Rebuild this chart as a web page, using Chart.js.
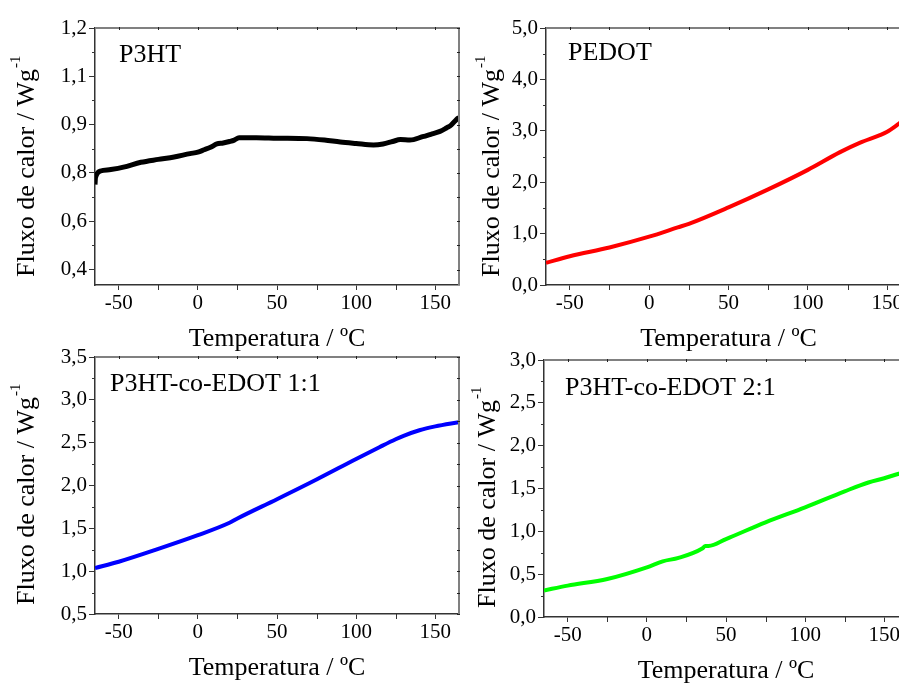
<!DOCTYPE html>
<html lang="pt">
<head>
<meta charset="UTF-8">
<title>Fluxo de calor - DSC</title>
<script src="https://cdn.jsdelivr.net/npm/chart.js"></script>
<style>
    html, body {
        margin: 0;
        padding: 0;
        background: #fff;
        overflow: hidden;
    }
    body {
        width: 899px;
        height: 686px;
        position: relative;
    }
    canvas {
        position: absolute;
    }
</style>
</head>
<body>
<canvas id="c1" width="470" height="355" style="left:0;top:0"></canvas>
<canvas id="c2" width="480" height="355" style="left:450px;top:0"></canvas>
<canvas id="c3" width="470" height="354" style="left:0;top:330px"></canvas>
<canvas id="c4" width="480" height="357" style="left:450px;top:330px"></canvas>
<script>
    // --- data ---
    const xTicks = [-50, 0, 50, 100, 150];
    const xMinor = [-25, 25, 75, 125];
    const xTitle = 'Temperatura / ºC';
    const yTitle = 'Fluxo de calor / Wg';
    const yTitleSup = '-1';

    // P3HT (axis labels are printed as in the original figure)
    const tempP3HT = [-65, -64.7, -61.5, -55, -47, -36, -25, -15, -5, 0, 4, 8, 12, 16, 20, 23, 26, 37, 50, 69,
        80, 90, 100, 111, 117, 123, 128, 134, 142, 148, 153, 157, 160, 163.5, 165];
    const flowP3HT = [0.776, 0.79, 0.804, 0.807, 0.812, 0.822, 0.828, 0.833, 0.840, 0.843, 0.848, 0.853, 0.860, 0.862, 0.865, 0.868, 0.873, 0.873, 0.872, 0.871,
        0.868, 0.864, 0.861, 0.858, 0.860, 0.865, 0.869, 0.868, 0.875, 0.881, 0.886, 0.893, 0.899, 0.911, 0.915];
    const yTicksP3HT = [0.6, 0.7, 0.8, 0.9, 1.0, 1.1];
    const yLabelsP3HT = ['0,4', '0,6', '0,8', '0,9', '1,1', '1,2'];
    const yMinorP3HT = [0.65, 0.75, 0.85, 0.95, 1.05];

    // PEDOT
    const tempPEDOT = [-65, -50, -25, 0, 18, 25, 50, 75, 100, 120, 133, 145, 150, 157, 165];
    const flowPEDOT = [0.43, 0.56, 0.73, 0.94, 1.12, 1.19, 1.51, 1.86, 2.24, 2.58, 2.77, 2.91, 2.98, 3.13, 3.32];
    const yTicksPEDOT = [0, 1, 2, 3, 4, 5];
    const yLabelsPEDOT = ['0,0', '1,0', '2,0', '3,0', '4,0', '5,0'];
    const yMinorPEDOT = [0.5, 1.5, 2.5, 3.5, 4.5];

    // P3HT-co-EDOT 1:1
    const temp11 = [-65, -50, -25, 0, 20, 25, 50, 75, 100, 115, 125, 130, 140, 150, 165];
    const flow11 = [1.036, 1.11, 1.26, 1.42, 1.565, 1.615, 1.84, 2.07, 2.31, 2.45, 2.54, 2.58, 2.645, 2.69, 2.74];
    const yTicks11 = [0.5, 1.0, 1.5, 2.0, 2.5, 3.0, 3.5];
    const yLabels11 = ['0,5', '1,0', '1,5', '2,0', '2,5', '3,0', '3,5'];
    const yMinor11 = [0.75, 1.25, 1.75, 2.25, 2.75, 3.25];

    // P3HT-co-EDOT 2:1
    const temp21 = [-65, -50, -25, 0, 10, 20, 35, 37, 39, 50, 75, 100, 125, 140, 150, 157, 165];
    const flow21 = [0.31, 0.366, 0.444, 0.58, 0.65, 0.69, 0.80, 0.83, 0.83, 0.91, 1.105, 1.28, 1.467, 1.57, 1.62, 1.66, 1.70];
    const yTicks21 = [0, 0.5, 1.0, 1.5, 2.0, 2.5, 3.0];
    const yLabels21 = ['0,0', '0,5', '1,0', '1,5', '2,0', '2,5', '3,0'];
    const yMinor21 = [0.25, 0.75, 1.25, 1.75, 2.25, 2.75];

    const serif = '"Liberation Serif", "Times New Roman", serif';

    // minor ticks, top/right frame, inner label and y title with superscript
    const decorPlugin = {
        id: 'decor',
        afterDraw(chart, args, opts) {
            const ctx = chart.ctx;
            const a = chart.chartArea;
            const xs = chart.scales.x, ys = chart.scales.y;
            ctx.save();

            ctx.strokeStyle = '#333';
            ctx.lineWidth = 1;
            ctx.beginPath();
            opts.xMinor.forEach(v => {
                const px = Math.round(xs.getPixelForValue(v)) + 0.5;
                ctx.moveTo(px, a.bottom);
                ctx.lineTo(px, a.bottom + 5);
            });
            opts.yMinor.forEach(v => {
                const py = Math.round(ys.getPixelForValue(v)) + 0.5;
                ctx.moveTo(a.left, py);
                ctx.lineTo(a.left - 3, py);
            });
            ctx.stroke();

            ctx.strokeStyle = '#808080';
            ctx.lineWidth = 2;
            ctx.beginPath();
            ctx.moveTo(a.left, a.top);
            ctx.lineTo(a.right, a.top);
            ctx.lineTo(a.right, a.bottom);
            ctx.stroke();

            // small marks on top and right borders
            ctx.strokeStyle = '#222';
            ctx.lineWidth = 1;
            ctx.beginPath();
            xTicks.concat(opts.xMinor).forEach(v => {
                const px = Math.round(xs.getPixelForValue(v)) + 0.5;
                ctx.moveTo(px, a.top - 1);
                ctx.lineTo(px, a.top + 2);
            });
            opts.yTicks.concat(opts.yMinor).forEach(v => {
                const py = Math.round(ys.getPixelForValue(v)) + 0.5;
                ctx.moveTo(a.right - 2, py);
                ctx.lineTo(a.right + 1, py);
            });
            ctx.stroke();

            ctx.fillStyle = '#000';
            ctx.textAlign = 'left';
            ctx.textBaseline = 'alphabetic';
            ctx.font = '26px ' + serif;
            ctx.fillText(opts.label, a.left + opts.labelDx, a.top + opts.labelDy);

            ctx.translate(a.left + opts.titleDx, a.bottom + opts.titleDy);
            ctx.rotate(-Math.PI / 2);
            ctx.fillText(yTitle, 0, 0);
            const w = ctx.measureText(yTitle).width;
            ctx.font = '15px ' + serif;
            ctx.fillText(yTitleSup, w + 1, -14);
            ctx.restore();
        }
    };

    function makeChart(id, p) {
        const ctx = document.getElementById(id).getContext('2d');
        return new Chart(ctx, {
            type: 'line',
            data: {
                datasets: [{
                    data: p.temps.map((t, i) => ({ x: t, y: p.values[i] })),
                    borderColor: p.color,
                    borderWidth: p.width,
                    pointRadius: 0,
                    cubicInterpolationMode: 'monotone',
                    fill: false,
                    clip: 0
                }]
            },
            options: {
                responsive: false,
                animation: false,
                events: [],
                layout: { padding: p.padding },
                plugins: {
                    legend: { display: false },
                    tooltip: { enabled: false },
                    decor: {
                        xMinor: xMinor,
                        yMinor: p.yMinor,
                        yTicks: p.yTicks,
                        label: p.label,
                        labelDx: p.labelDx,
                        labelDy: p.labelDy,
                        titleDx: p.titleDx,
                        titleDy: p.titleDy
                    }
                },
                scales: {
                    x: {
                        type: 'linear',
                        min: -65,
                        max: 165,
                        afterBuildTicks: s => { s.ticks = xTicks.map(v => ({ value: v })); },
                        afterFit: s => { s.height = 70; },
                        ticks: {
                            callback: v => String(v),
                            font: { family: serif, size: 21 },
                            color: '#000',
                            padding: 1,
                            maxRotation: 0,
                            autoSkip: false
                        },
                        grid: { drawOnChartArea: false, drawTicks: true, tickLength: 5, color: '#333' },
                        border: { display: true, color: '#333', width: 1.5 },
                        title: {
                            display: true,
                            text: xTitle,
                            font: { family: serif, size: 26 },
                            color: '#000',
                            padding: 0
                        }
                    },
                    y: {
                        type: 'linear',
                        min: p.yMin,
                        max: p.yMax,
                        afterBuildTicks: s => { s.ticks = p.yTicks.map(v => ({ value: v })); },
                        afterFit: s => { s.width = p.yWidth; },
                        ticks: {
                            callback: (v, i) => p.yLabels[i],
                            font: { family: serif, size: 21 },
                            color: '#000',
                            padding: 2,
                            autoSkip: false
                        },
                        grid: { drawOnChartArea: false, drawTicks: true, tickLength: 6, color: '#333' },
                        border: { display: true, color: '#333', width: 1.5 }
                    }
                }
            },
            plugins: [decorPlugin]
        });
    }

    makeChart('c1', {
        temps: tempP3HT, values: flowP3HT, color: '#000000', width: 5,
        yMin: 0.568, yMax: 1.1, yTicks: yTicksP3HT, yLabels: yLabelsP3HT, yMinor: yMinorP3HT,
        yWidth: 95, padding: { top: 28, right: 11, left: 0, bottom: 0 },
        label: 'P3HT', labelDx: 24, labelDy: 34, titleDx: -61, titleDy: -8
    });

    makeChart('c2', {
        temps: tempPEDOT, values: flowPEDOT, color: '#ff0000', width: 4,
        yMin: 0, yMax: 5, yTicks: yTicksPEDOT, yLabels: yLabelsPEDOT, yMinor: yMinorPEDOT,
        yWidth: 96, padding: { top: 28, right: 19, left: 0, bottom: 0 },
        label: 'PEDOT', labelDx: 22, labelDy: 32, titleDx: -47, titleDy: -8
    });

    makeChart('c3', {
        temps: temp11, values: flow11, color: '#0000ff', width: 4,
        yMin: 0.5, yMax: 3.5, yTicks: yTicks11, yLabels: yLabels11, yMinor: yMinor11,
        yWidth: 95, padding: { top: 27, right: 11, left: 0, bottom: 0 },
        label: 'P3HT-co-EDOT 1:1', labelDx: 15, labelDy: 34, titleDx: -61, titleDy: -9
    });

    makeChart('c4', {
        temps: temp21, values: flow21, color: '#00ff00', width: 4,
        yMin: 0, yMax: 3, yTicks: yTicks21, yLabels: yLabels21, yMinor: yMinor21,
        yWidth: 94, padding: { top: 30, right: 22, left: 0, bottom: 0 },
        label: 'P3HT-co-EDOT 2:1', labelDx: 21, labelDy: 35, titleDx: -49, titleDy: -9
    });
</script>
</body>
</html>
